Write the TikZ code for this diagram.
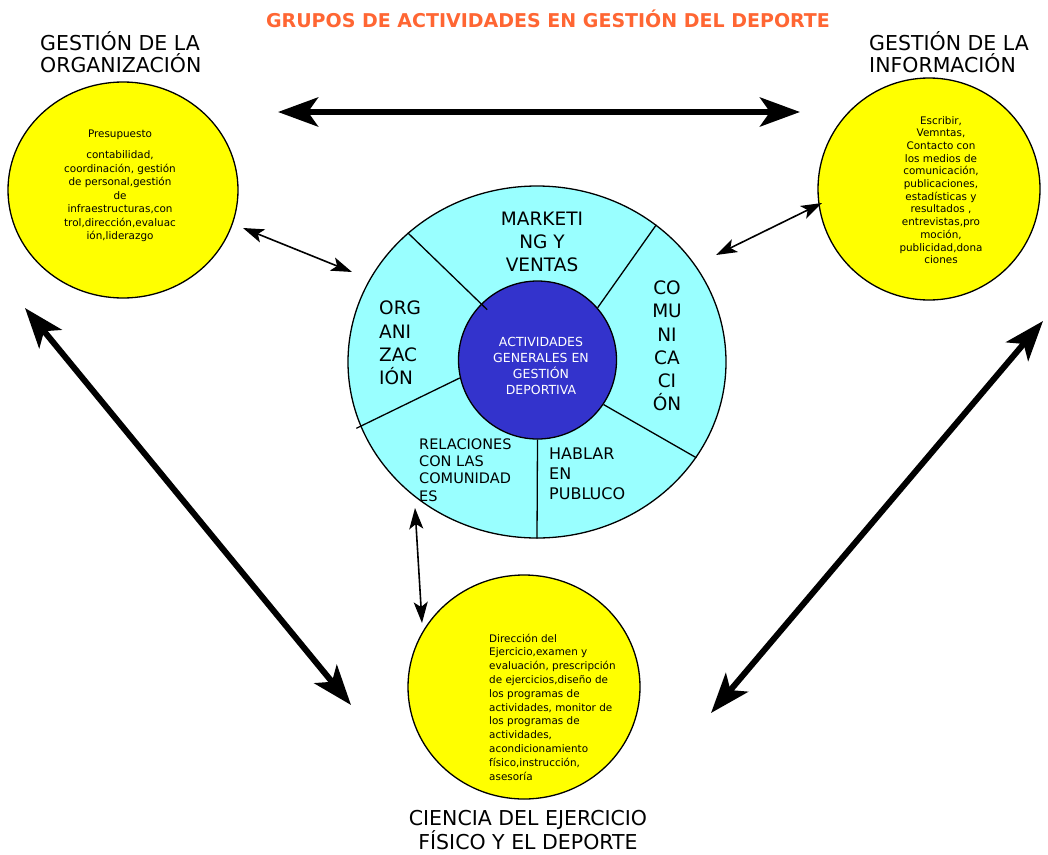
\documentclass[tikz,border=0pt]{standalone}
\usepackage{fontspec}
\setmainfont{DejaVu Sans}
\usetikzlibrary{shapes.geometric,arrows.meta}
\definecolor{bubbleyellow}{RGB}{255,255,0}
\definecolor{ringcyan}{RGB}{153,255,255}
\definecolor{coreblue}{RGB}{51,51,204}
\definecolor{titleorange}{RGB}{255,102,51}

\begin{document}
\begin{tikzpicture}[x=1pt, y=-1pt,
    bubble/.style={ellipse, draw, fill=bubbleyellow, line width=1.3pt, inner sep=0pt},
    bubbletext/.style={font=\fontsize{10.4}{13.5}\selectfont, inner sep=0pt},
    heading/.style={font=\fontsize{20.5}{22.5}\selectfont, inner sep=0pt},
    sector/.style={font=\fontsize{18.5}{23.3}\selectfont, inner sep=0pt},
    divider/.style={line width=1.3pt},
    bigarrow/.style={{Stealth[length=40pt,width=29pt,inset=10pt]}-{Stealth[length=40pt,width=29pt,inset=10pt]}, line width=6pt},
    arrow/.style={{Stealth[length=21pt,width=14pt,inset=5pt]}-{Stealth[length=21pt,width=14pt,inset=5pt]}, line width=1.6pt}
]
    \useasboundingbox (0,0) rectangle (1048,854);

    \node[font=\bfseries\fontsize{19}{22}\selectfont, text=titleorange] (title) at (548,19) {GRUPOS DE ACTIVIDADES EN GESTIÓN DEL DEPORTE};

    \node[heading, anchor=west, align=left] (orghead) at (40,52) {GESTIÓN DE LA\\ORGANIZACIÓN};
    \node[heading, anchor=west, align=left] (infhead) at (869,52) {GESTIÓN DE LA\\INFORMACIÓN};
    \node[heading, align=center] (ejhead) at (528,830) {CIENCIA DEL EJERCICIO\\FÍSICO Y EL DEPORTE};

    \node[bubble, minimum width=230pt, minimum height=216pt] (org) at (123,190) {};
    \node[bubble, minimum width=222pt, minimum height=222pt] (inf) at (929,189) {};
    \node[bubble, minimum width=232pt, minimum height=224pt] (ej) at (524,687) {};

    \node[bubbletext, align=center] (orgtxt) at (120,186) {Presupuesto\\[8pt]contabilidad,\\coordinación, gestión\\de personal,gestión\\de\\infraestructuras,con\\trol,dirección,evaluac\\ión,liderazgo};
    \node[bubbletext, align=center, font=\fontsize{10.4}{12.7}\selectfont] (inftxt) at (941,190) {Escribir,\\Vemntas,\\Contacto con\\los medios de\\comunicación,\\publicaciones,\\estadísticas y\\resultados ,\\entrevistas,pro\\moción,\\publicidad,dona\\ciones};
    \node[bubbletext, align=left, anchor=west, font=\fontsize{10.4}{13.8}\selectfont] (ejtxt) at (489,707) {Dirección del\\Ejercicio,examen y\\evaluación, prescripción\\de ejercicios,diseño de\\los programas de\\actividades, monitor de\\los programas de\\actividades,\\acondicionamiento\\físico,instrucción,\\asesoría};

    \node[ellipse, draw, fill=ringcyan, line width=1.3pt, inner sep=0pt, minimum width=378pt, minimum height=352pt] (ring) at (537,362) {};
    \node[circle, draw, fill=coreblue, line width=1.3pt, inner sep=0pt, minimum size=158pt] (core) at (537.5,360) {};

    \draw[divider] ([shift={(6,6)}]core.135) -- (ring.135);
    \draw[divider] (core.41) -- (ring.49);
    \draw[divider] (core.-34) -- (ring.-31);
    \draw[divider] (core.-90) -- (ring.-90);
    \draw[divider] (core.193) -- ([shift={(-4,2)}]ring.200);

    \node[font=\fontsize{12.5}{16}\selectfont, text=white, align=center, inner sep=0pt] (coretxt) at (541,366) {ACTIVIDADES\\GENERALES EN\\GESTIÓN\\DEPORTIVA};
    \node[sector, align=center] (mkt) at (542,242) {MARKETI\\NG Y\\VENTAS};
    \node[sector, align=left, anchor=west] (orgsec) at (379,343) {ORG\\ANI\\ZAC\\IÓN};
    \node[sector, align=center] (comsec) at (667,346) {CO\\MU\\NI\\CA\\CI\\ÓN};
    \node[font=\fontsize{14.5}{17.3}\selectfont, align=left, anchor=west, inner sep=0pt] (relsec) at (419,470) {RELACIONES\\CON LAS\\COMUNIDAD\\ES};
    \node[font=\fontsize{16}{20}\selectfont, align=left, anchor=west, inner sep=0pt] (habsec) at (549,474) {HABLAR\\EN\\PUBLUCO};

    \coordinate (topL) at (278,112);
    \coordinate (topR) at (800,112);
    \coordinate (leftU) at (25,308);
    \coordinate (leftD) at (351,705);
    \coordinate (rightU) at (1043,321);
    \coordinate (rightD) at (711,713);
    \coordinate (orgA) at (243,228);
    \coordinate (ringA) at (352,272);
    \coordinate (ringB) at (716,255);
    \coordinate (infB) at (822,203);
    \coordinate (ringC) at (415,508);
    \coordinate (ejC) at (422,623);

    \draw[bigarrow] (topL) -- (topR);
    \draw[bigarrow] (leftU) -- (leftD);
    \draw[bigarrow] (rightU) -- (rightD);
    \draw[arrow] (orgA) -- (ringA);
    \draw[arrow] (ringB) -- (infB);
    \draw[arrow] (ringC) -- (ejC);
\end{tikzpicture}
\end{document}
